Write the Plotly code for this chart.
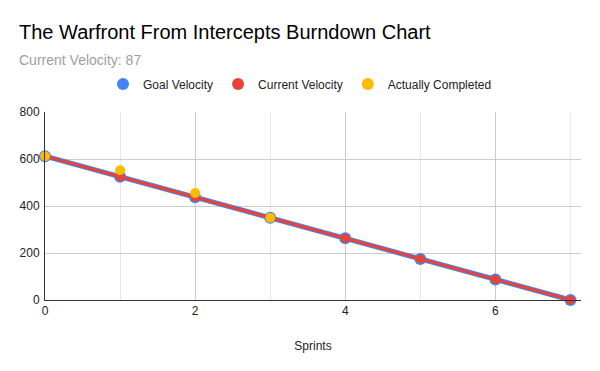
import plotly.graph_objects as go

sprints = [0, 1, 2, 3, 4, 5, 6, 7]
goal_velocity = [612, 524.6, 437.1, 349.7, 262.3, 174.9, 87.4, 0]
current_velocity = [612, 524.6, 437.1, 349.7, 262.3, 174.9, 87.4, 0]
completed_sprints = [0, 1, 2, 3]
actually_completed = [612, 552, 455, 350]

BLUE = "#4285f4"
RED = "#ea4335"
YELLOW = "#fbbc04"
FONT = "Liberation Sans, Arial, sans-serif"

fig = go.Figure()
fig.add_trace(go.Scatter(x=sprints, y=goal_velocity, mode="lines+markers",
                         line=dict(color=BLUE, width=5),
                         marker=dict(color=BLUE, size=12),
                         showlegend=False, cliponaxis=False))
fig.add_trace(go.Scatter(x=sprints, y=current_velocity, mode="lines+markers",
                         line=dict(color=RED, width=3),
                         marker=dict(color=RED, size=9),
                         showlegend=False, cliponaxis=False))
fig.add_trace(go.Scatter(x=completed_sprints, y=actually_completed, mode="markers",
                         marker=dict(color=YELLOW, size=10),
                         showlegend=False, cliponaxis=False))

for name, col in [("Goal Velocity", BLUE), ("Current Velocity", RED), ("Actually Completed", YELLOW)]:
    fig.add_trace(go.Scatter(x=[None], y=[None], mode="markers", name=name,
                             marker=dict(color=col, size=12)))

fig.update_layout(
    width=600, height=371,
    margin=dict(l=45, r=19, t=112, b=71, autoexpand=False),
    paper_bgcolor="white", plot_bgcolor="white",
    font=dict(family=FONT, color="#222222", size=12),
    title=dict(
        text="The Warfront From Intercepts Burndown Chart<br><span style='font-size:14px;color:#9e9e9e'>Current Velocity: 87</span>",
        x=19 / 600, xref="container", xanchor="left", y=1 - 39 / 371, yanchor="top",
        font=dict(family=FONT, size=20, color="#000000"),
        automargin=False,
    ),
    legend=dict(orientation="h", x=0.5, xref="container", xanchor="center",
                y=1 - 84 / 371, yref="container", yanchor="middle",
                font=dict(size=12, color="#222222"), itemwidth=30, tracegroupgap=0),
    xaxis=dict(range=[0, 7.14], dtick=2, tick0=0, showgrid=True, gridcolor="#cccccc",
               minor=dict(dtick=1, tick0=0, showgrid=True, gridcolor="#e8e8e8"),
               zeroline=False, showline=True, linecolor="#333333", linewidth=1,
               ticks="", automargin=False,
               title=dict(text="Sprints", font=dict(size=12, color="#222222"), standoff=24),
               tickfont=dict(size=12, color="#222222")),
    yaxis=dict(range=[0, 800], dtick=200, showgrid=True, gridcolor="#cccccc",
               zeroline=False, showline=True, linecolor="#333333", linewidth=1,
               ticks="", automargin=False, ticklabelstandoff=2,
               tickfont=dict(size=12, color="#222222")),
)

fig.write_html("out.html", config={"displayModeBar": False},
               post_script="document.body.style.margin='0';")
